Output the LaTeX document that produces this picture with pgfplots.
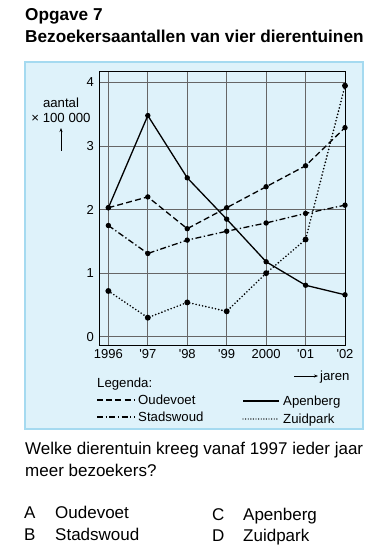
\documentclass[border=0pt]{standalone}
\usepackage{pgfplots}
\pgfplotsset{compat=1.18}
\usepackage{fontspec}
\setmainfont{Liberation Sans}
\usetikzlibrary{arrows.meta}
\definecolor{boxfill}{RGB}{222,242,250}
\definecolor{boxline}{RGB}{165,218,240}
\tikzset{
  oud/.style={black, line width=1.3bp, dash pattern=on 6bp off 3.2bp},
  sta/.style={black, line width=1.3bp, dash pattern=on 6bp off 2.5bp on 1.3bp off 2.5bp},
  ape/.style={black, line width=1.3bp},
  zui/.style={black, line width=1.8bp, line cap=round, dash pattern=on 0bp off 3.3bp},
}
\begin{document}
\begin{tikzpicture}
\begin{scope}[x=1bp,y=-1bp]
\useasboundingbox (0,0) rectangle (380,557);
\fill[white] (0,0) rectangle (380,557);
\draw[boxline, fill=boxfill, line width=1.5bp] (25,62) rectangle (363,429);

\node[anchor=base west, inner sep=0, font=\fontsize{17.2bp}{20bp}\selectfont\bfseries] at (25,21) {Opgave 7};
\node[anchor=base west, inner sep=0, font=\fontsize{17.2bp}{20bp}\selectfont\bfseries] at (25,43) {Bezoekersaantallen van vier dierentuinen};
\end{scope}

\begin{axis}[
  at={(99.3bp,-345bp)}, anchor=south west,
  scale only axis, width=245.7bp, height=273.3bp,
  xmin=1995.77, xmax=2002, ymin=-0.13, ymax=4.17,
  xtick={1996,1997,1998,1999,2000,2001,2002},
  xticklabels={{1996},{\textquotesingle97},{\textquotesingle98},{\textquotesingle99},{2000},{\textquotesingle01},{\textquotesingle02}},
  ytick={0,1,2,3,4},
  grid=major,
  major grid style={line width=0.7bp, black!60},
  major tick length=0pt,
  axis line style={line width=1bp, black},
  tick label style={font=\fontsize{13bp}{14bp}\selectfont},
  /pgf/number format/assume math mode=true,
  yticklabel style={xshift=-2bp},
  xticklabel style={yshift=-1bp},
  clip=false,
  mark size=2bp,
]
\addplot[oud, mark=*, mark options={solid}] coordinates {(1996,2.03) (1997,2.20) (1998,1.70) (1999,2.03) (2000,2.36) (2001,2.69) (2002,3.29)};
\addplot[sta, mark=*, mark options={solid}] coordinates {(1996,1.75) (1997,1.31) (1998,1.52) (1999,1.66) (2000,1.79) (2001,1.94) (2002,2.07)};
\addplot[ape, mark=*, mark options={solid}] coordinates {(1996,2.03) (1997,3.48) (1998,2.50) (1999,1.85) (2000,1.18) (2001,0.81) (2002,0.66)};
\addplot[zui, mark=*, mark options={solid}] coordinates {(1996,0.72) (1997,0.30) (1998,0.54) (1999,0.40) (2000,1.00) (2001,1.53) (2002,3.95)};
\end{axis}

\begin{scope}[x=1bp,y=-1bp,font=\fontsize{13.2bp}{15bp}\selectfont]
\node[anchor=base, inner sep=0] at (61,107.5) {aantal};
\node[anchor=base, inner sep=0] at (61,122.5) {× 100 000};
\draw[line width=0.7bp, -{Stealth[length=4bp,width=3bp]}] (61,151) -- (61,128);
\draw[line width=0.7bp, -{Stealth[length=4bp,width=3bp]}] (294,376) -- (318,376);
\node[anchor=base west, inner sep=0] at (320,380.5) {jaren};
\node[anchor=base west, inner sep=0] at (97,387.5) {Legenda:};
\draw[oud] (97,400) -- (135,400);
\node[anchor=base west, inner sep=0] at (138,404.5) {Oudevoet};
\draw[sta] (97,417) -- (135,417);
\node[anchor=base west, inner sep=0] at (138,421.5) {Stadswoud};
\draw[ape] (243,401) -- (279,401);
\node[anchor=base west, inner sep=0] at (283,405.5) {Apenberg};
\draw[zui, line width=1.4bp, dash pattern=on 0bp off 2.6bp] (243,419) -- (279,419);
\node[anchor=base west, inner sep=0] at (283,423.5) {Zuidpark};
\end{scope}

\begin{scope}[x=1bp,y=-1bp,font=\fontsize{17bp}{20bp}\selectfont]
\node[anchor=base west, inner sep=0] at (25,454) {Welke dierentuin kreeg vanaf 1997 ieder jaar};
\node[anchor=base west, inner sep=0] at (25,476) {meer bezoekers?};
\node[anchor=base west, inner sep=0] at (24,518) {A};
\node[anchor=base west, inner sep=0] at (55,518) {Oudevoet};
\node[anchor=base west, inner sep=0] at (24,540) {B};
\node[anchor=base west, inner sep=0] at (55,540) {Stadswoud};
\node[anchor=base west, inner sep=0] at (212,520) {C};
\node[anchor=base west, inner sep=0] at (243,520) {Apenberg};
\node[anchor=base west, inner sep=0] at (212,541) {D};
\node[anchor=base west, inner sep=0] at (243,541) {Zuidpark};
\end{scope}
\end{tikzpicture}
\end{document}
